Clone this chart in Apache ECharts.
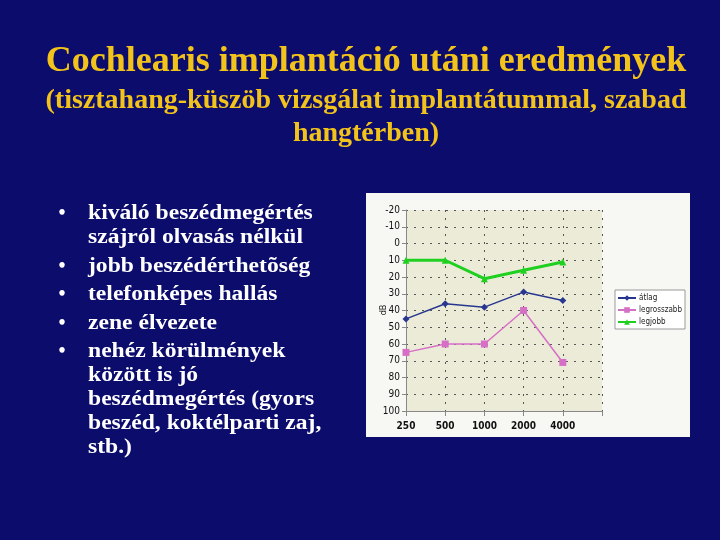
<!DOCTYPE html>
<html>
<head>
<meta charset="utf-8">
<script src="https://cdn.jsdelivr.net/npm/echarts@6/dist/echarts.min.js"></script>
<style>
  html, body { margin: 0; padding: 0; background: #0c0c6c; }
  #chart { width: 720px; height: 540px; }
</style>
</head>
<body>
<div id="chart"></div>
<script>
// frequencies (Hz), last slot is the empty space Excel left on the right
const freqs = ['250', '500', '1000', '2000', '4000', ''];
const atlag = [45, 36, 38, 29, 34, null];
const legrosszabb = [65, 60, 60, 40, 71, null];
const legjobb = [10, 10, 21, 16, 11, null];

const bullets = [
  ['kiváló beszédmegértés', 'szájról olvasás nélkül'],
  ['jobb beszédérthetõség'],
  ['telefonképes hallás'],
  ['zene élvezete'],
  ['nehéz körülmények', 'között is jó', 'beszédmegértés (gyors', 'beszéd, koktélparti zaj,', 'stb.)']
];

const gold = '#f2c31a';
const axisFont = '"DejaVu Sans Condensed", "Liberation Sans", sans-serif';

const chart = echarts.init(document.getElementById('chart'));

// bullet list as graphic texts: wrapped lines sit closer than new bullets
const bulletEls = [];
let y = 214;
bullets.forEach((lines, i) => {
  if (i > 0) y += 28.5;
  bulletEls.push({
    type: 'text', x: 62, y: y,
    style: { text: '•', fill: '#ffffff', font: 'bold 20px "Liberation Serif"', align: 'center', verticalAlign: 'middle' }
  });
  lines.forEach((line, j) => {
    if (j > 0) y += 24;
    bulletEls.push({
      type: 'text', x: 88, y: y, scaleX: 1.18,
      style: { text: line, fill: '#ffffff', font: 'bold 20px "Liberation Serif"', verticalAlign: 'middle' }
    });
  });
});

const headEls = [
  { text: 'Cochlearis implantáció utáni eredmények', y: 62, font: 'bold 36px "Liberation Serif"' },
  { text: '(tisztahang-küszöb vizsgálat implantátummal, szabad', y: 101, font: 'bold 28px "Liberation Serif"' },
  { text: 'hangtérben)', y: 134, font: 'bold 28px "Liberation Serif"' }
].map((h) => ({
  type: 'text', x: 366, y: h.y,
  style: { text: h.text, fill: gold, font: h.font, align: 'center', verticalAlign: 'middle' }
}));

const lineSeries = (name, data, color, symbol, width) => ({
  name: name,
  type: 'line',
  data: data,
  symbol: symbol,
  symbolSize: 7,
  lineStyle: { color: color, width: width },
  itemStyle: { color: color }
});

chart.setOption({
  backgroundColor: '#0c0c6c',
  animation: false,
  graphic: [
    {
      type: 'rect', z: -1,
      shape: { x: 366, y: 193, width: 324, height: 244 },
      style: { fill: '#f7f7f3' }
    },
    {
      type: 'text', x: 384, y: 310, rotation: Math.PI / 2,
      style: { text: 'dB', fill: '#222', font: '9px ' + axisFont, align: 'center', verticalAlign: 'middle' }
    }
  ].concat(headEls, bulletEls),
  legend: {
    orient: 'vertical',
    left: 615, top: 290,
    backgroundColor: '#ffffff',
    borderColor: '#999',
    borderWidth: 1,
    padding: [4, 3, 3, 2],
    itemGap: 4,
    itemWidth: 18,
    itemHeight: 7,
    textStyle: { fontFamily: axisFont, fontSize: 8, color: '#222', padding: [0, 0, 0, -2] },
    data: ['átlag', 'legrosszabb', 'legjobb']
  },
  grid: {
    left: 406, top: 210, right: 118, bottom: 129,
    show: true, backgroundColor: '#ecebd8', borderWidth: 0
  },
  xAxis: {
    type: 'category',
    data: freqs,
    boundaryGap: false,
    axisLine: { onZero: false, lineStyle: { color: '#888' } },
    axisTick: { show: true, lineStyle: { color: '#888' } },
    axisLabel: { color: '#111', fontFamily: axisFont, fontSize: 10, fontWeight: 'bold', margin: 10 },
    splitLine: { show: true, lineStyle: { color: '#555', type: [2, 6], width: 1 } }
  },
  yAxis: {
    type: 'value',
    inverse: true,
    min: -20, max: 100, interval: 10,
    axisLine: { show: true, lineStyle: { color: '#888' } },
    axisTick: { show: true, length: 4, lineStyle: { color: '#888' } },
    axisLabel: { color: '#111', fontFamily: axisFont, fontSize: 10, margin: 6 },
    splitLine: { show: true, lineStyle: { color: '#555', type: [2, 6], width: 1 } }
  },
  series: [
    lineSeries('átlag', atlag, '#27378f', 'diamond', 1.5),
    lineSeries('legrosszabb', legrosszabb, '#d66fc6', 'rect', 1.5),
    lineSeries('legjobb', legjobb, '#20d020', 'triangle', 3)
  ]
});
</script>
</body>
</html>
